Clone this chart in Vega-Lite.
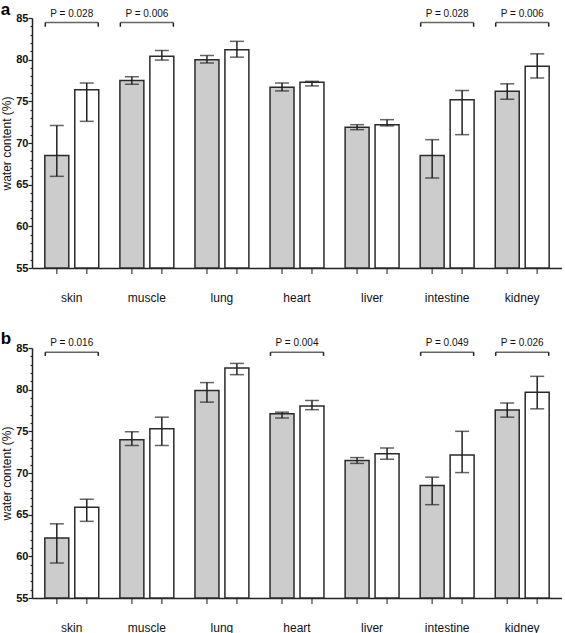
{
  "$schema": "https://vega.github.io/schema/vega-lite/v6.json",
  "padding": 0,
  "config": {
    "view": {"stroke": null},
    "font": "Liberation Sans",
    "title": {"font": "Liberation Sans"},
    "axis": {"labelFont": "Liberation Sans", "titleFont": "Liberation Sans"}
  },
  "datasets": {
    "barsA": [
      {"organ": "skin", "group": "control", "mean": 68.5, "lo": 66.0, "hi": 72.1},
      {"organ": "skin", "group": "treatment", "mean": 76.4, "lo": 72.6, "hi": 77.2},
      {"organ": "muscle", "group": "control", "mean": 77.5, "lo": 77.05, "hi": 77.95},
      {"organ": "muscle", "group": "treatment", "mean": 80.4, "lo": 79.95, "hi": 81.1},
      {"organ": "lung", "group": "control", "mean": 80.0, "lo": 79.6, "hi": 80.5},
      {"organ": "lung", "group": "treatment", "mean": 81.2, "lo": 80.3, "hi": 82.2},
      {"organ": "heart", "group": "control", "mean": 76.7, "lo": 76.25, "hi": 77.2},
      {"organ": "heart", "group": "treatment", "mean": 77.3, "lo": 76.85, "hi": 77.4},
      {"organ": "liver", "group": "control", "mean": 71.9, "lo": 71.6, "hi": 72.2},
      {"organ": "liver", "group": "treatment", "mean": 72.2, "lo": 72.05, "hi": 72.8},
      {"organ": "intestine", "group": "control", "mean": 68.5, "lo": 65.8, "hi": 70.4},
      {"organ": "intestine", "group": "treatment", "mean": 75.2, "lo": 71.0, "hi": 76.3},
      {"organ": "kidney", "group": "control", "mean": 76.2, "lo": 75.25, "hi": 77.1},
      {"organ": "kidney", "group": "treatment", "mean": 79.2, "lo": 77.8, "hi": 80.7}
    ],
    "barsB": [
      {"organ": "skin", "group": "control", "mean": 62.2, "lo": 59.2, "hi": 63.9},
      {"organ": "skin", "group": "treatment", "mean": 65.9, "lo": 64.2, "hi": 66.85},
      {"organ": "muscle", "group": "control", "mean": 74.0, "lo": 73.3, "hi": 74.95},
      {"organ": "muscle", "group": "treatment", "mean": 75.3, "lo": 73.3, "hi": 76.7},
      {"organ": "lung", "group": "control", "mean": 79.9, "lo": 78.5, "hi": 80.85},
      {"organ": "lung", "group": "treatment", "mean": 82.6, "lo": 81.8, "hi": 83.15},
      {"organ": "heart", "group": "control", "mean": 77.1, "lo": 76.6, "hi": 77.3},
      {"organ": "heart", "group": "treatment", "mean": 78.05, "lo": 77.6, "hi": 78.7},
      {"organ": "liver", "group": "control", "mean": 71.5, "lo": 71.15, "hi": 71.85},
      {"organ": "liver", "group": "treatment", "mean": 72.3, "lo": 71.65, "hi": 73.0},
      {"organ": "intestine", "group": "control", "mean": 68.5, "lo": 66.2, "hi": 69.5},
      {"organ": "intestine", "group": "treatment", "mean": 72.15, "lo": 70.05, "hi": 75.0},
      {"organ": "kidney", "group": "control", "mean": 77.55, "lo": 76.7, "hi": 78.4},
      {"organ": "kidney", "group": "treatment", "mean": 79.7, "lo": 77.7, "hi": 81.6}
    ],
    "pA": [
      {"organ": "skin", "p": "P = 0.028"},
      {"organ": "muscle", "p": "P = 0.006"},
      {"organ": "intestine", "p": "P = 0.028"},
      {"organ": "kidney", "p": "P = 0.006"}
    ],
    "pB": [
      {"organ": "skin", "p": "P = 0.016"},
      {"organ": "heart", "p": "P = 0.004"},
      {"organ": "intestine", "p": "P = 0.049"},
      {"organ": "kidney", "p": "P = 0.026"}
    ]
  },
  "vconcat": [
    {
      "width": 530,
      "height": 250,
      "title": {"text": "a", "anchor": "start", "frame": "bounds", "fontSize": 17, "fontWeight": "bold", "offset": -10},
      "layer": [
        {
          "data": {"name": "barsA"},
          "mark": {"type": "bar", "stroke": "#2a2a2a", "strokeWidth": 1.5},
          "encoding": {
            "x": {"field": "organ", "type": "nominal", "sort": null,
                  "scale": {"paddingInner": 0, "paddingOuter": 0.03},
                  "axis": {"title": null, "ticks": false, "tickSize": 0, "labelAngle": 0, "labelPadding": 24, "labelFontSize": 12, "labelColor": "#111111", "domainColor": "#222222", "domainWidth": 1.5}},
            "xOffset": {"field": "group", "type": "nominal", "scale": {"paddingInner": 0.2, "paddingOuter": 0.353}},
            "y": {"field": "mean", "type": "quantitative",
                  "scale": {"domain": [55, 85], "nice": false, "zero": false},
                  "axis": {"title": "water content (%)", "titleFontSize": 12, "titleFontWeight": "normal", "titleColor": "#111111", "titlePadding": 2,
                           "tickCount": 30,
                           "labelExpr": "datum.value % 5 === 0 ? datum.label : ''",
                           "labelOverlap": false,
                           "labelFontSize": 11, "labelFontWeight": "bold", "labelColor": "#111111", "labelPadding": 0,
                           "tickSize": {"condition": {"test": "datum.value % 5 === 0", "value": 4}, "value": 2},
                           "tickColor": "#222222", "tickWidth": 1.2, "domainColor": "#222222", "domainWidth": 1.5, "grid": false}},
            "y2": {"datum": 55},
            "fill": {"field": "group", "type": "nominal", "scale": {"domain": ["control", "treatment"], "range": ["#cccccc", "#ffffff"]}, "legend": null}
          }
        },
        {
          "data": {"name": "barsA"},
          "mark": {"type": "tick", "orient": "vertical", "size": 6, "thickness": 1.5, "yOffset": 3, "color": "#222222"},
          "encoding": {
            "x": {"field": "organ", "type": "nominal", "sort": null},
            "xOffset": {"field": "group", "type": "nominal"},
            "y": {"datum": 55, "type": "quantitative"}
          }
        },
        {
          "data": {"name": "barsA"},
          "mark": {"type": "rule", "strokeWidth": 1.5, "color": "#222222"},
          "encoding": {
            "x": {"field": "organ", "type": "nominal", "sort": null},
            "xOffset": {"field": "group", "type": "nominal"},
            "y": {"field": "lo", "type": "quantitative"},
            "y2": {"field": "hi"}
          }
        },
        {
          "data": {"name": "barsA"},
          "mark": {"type": "tick", "size": 14, "thickness": 1.5, "color": "#222222"},
          "encoding": {
            "x": {"field": "organ", "type": "nominal", "sort": null},
            "xOffset": {"field": "group", "type": "nominal"},
            "y": {"field": "lo", "type": "quantitative"}
          }
        },
        {
          "data": {"name": "barsA"},
          "mark": {"type": "tick", "size": 14, "thickness": 1.5, "color": "#222222"},
          "encoding": {
            "x": {"field": "organ", "type": "nominal", "sort": null},
            "xOffset": {"field": "group", "type": "nominal"},
            "y": {"field": "hi", "type": "quantitative"}
          }
        },
        {
          "data": {"name": "pA"},
          "mark": {"type": "tick", "size": 53, "thickness": 1.5, "color": "#222222"},
          "encoding": {
            "x": {"field": "organ", "type": "nominal", "sort": null},
            "y": {"datum": 84.45, "type": "quantitative"}
          }
        },
        {
          "data": {"name": "pA"},
          "mark": {"type": "rule", "strokeWidth": 1.5, "color": "#222222", "xOffset": -26.5},
          "encoding": {
            "x": {"field": "organ", "type": "nominal", "sort": null},
            "y": {"datum": 84.45, "type": "quantitative"},
            "y2": {"datum": 83.95}
          }
        },
        {
          "data": {"name": "pA"},
          "mark": {"type": "rule", "strokeWidth": 1.5, "color": "#222222", "xOffset": 26.5},
          "encoding": {
            "x": {"field": "organ", "type": "nominal", "sort": null},
            "y": {"datum": 84.45, "type": "quantitative"},
            "y2": {"datum": 83.95}
          }
        },
        {
          "data": {"name": "pA"},
          "mark": {"type": "text", "fontSize": 10, "baseline": "alphabetic", "dy": -6, "color": "#111111"},
          "encoding": {
            "x": {"field": "organ", "type": "nominal", "sort": null},
            "y": {"datum": 84.45, "type": "quantitative"},
            "text": {"field": "p"}
          }
        }
      ]
    },
    {
      "width": 530,
      "height": 250,
      "title": {"text": "b", "anchor": "start", "frame": "bounds", "fontSize": 17, "fontWeight": "bold", "offset": -10},
      "layer": [
        {
          "data": {"name": "barsB"},
          "mark": {"type": "bar", "stroke": "#2a2a2a", "strokeWidth": 1.5},
          "encoding": {
            "x": {"field": "organ", "type": "nominal", "sort": null,
                  "scale": {"paddingInner": 0, "paddingOuter": 0.03},
                  "axis": {"title": null, "ticks": false, "tickSize": 0, "labelAngle": 0, "labelPadding": 24, "labelFontSize": 12, "labelColor": "#111111", "domainColor": "#222222", "domainWidth": 1.5}},
            "xOffset": {"field": "group", "type": "nominal", "scale": {"paddingInner": 0.2, "paddingOuter": 0.353}},
            "y": {"field": "mean", "type": "quantitative",
                  "scale": {"domain": [55, 85], "nice": false, "zero": false},
                  "axis": {"title": "water content (%)", "titleFontSize": 12, "titleFontWeight": "normal", "titleColor": "#111111", "titlePadding": 2,
                           "tickCount": 30,
                           "labelExpr": "datum.value % 5 === 0 ? datum.label : ''",
                           "labelOverlap": false,
                           "labelFontSize": 11, "labelFontWeight": "bold", "labelColor": "#111111", "labelPadding": 0,
                           "tickSize": {"condition": {"test": "datum.value % 5 === 0", "value": 4}, "value": 2},
                           "tickColor": "#222222", "tickWidth": 1.2, "domainColor": "#222222", "domainWidth": 1.5, "grid": false}},
            "y2": {"datum": 55},
            "fill": {"field": "group", "type": "nominal", "scale": {"domain": ["control", "treatment"], "range": ["#cccccc", "#ffffff"]}, "legend": null}
          }
        },
        {
          "data": {"name": "barsB"},
          "mark": {"type": "tick", "orient": "vertical", "size": 6, "thickness": 1.5, "yOffset": 3, "color": "#222222"},
          "encoding": {
            "x": {"field": "organ", "type": "nominal", "sort": null},
            "xOffset": {"field": "group", "type": "nominal"},
            "y": {"datum": 55, "type": "quantitative"}
          }
        },
        {
          "data": {"name": "barsB"},
          "mark": {"type": "rule", "strokeWidth": 1.5, "color": "#222222"},
          "encoding": {
            "x": {"field": "organ", "type": "nominal", "sort": null},
            "xOffset": {"field": "group", "type": "nominal"},
            "y": {"field": "lo", "type": "quantitative"},
            "y2": {"field": "hi"}
          }
        },
        {
          "data": {"name": "barsB"},
          "mark": {"type": "tick", "size": 14, "thickness": 1.5, "color": "#222222"},
          "encoding": {
            "x": {"field": "organ", "type": "nominal", "sort": null},
            "xOffset": {"field": "group", "type": "nominal"},
            "y": {"field": "lo", "type": "quantitative"}
          }
        },
        {
          "data": {"name": "barsB"},
          "mark": {"type": "tick", "size": 14, "thickness": 1.5, "color": "#222222"},
          "encoding": {
            "x": {"field": "organ", "type": "nominal", "sort": null},
            "xOffset": {"field": "group", "type": "nominal"},
            "y": {"field": "hi", "type": "quantitative"}
          }
        },
        {
          "data": {"name": "pB"},
          "mark": {"type": "tick", "size": 53, "thickness": 1.5, "color": "#222222"},
          "encoding": {
            "x": {"field": "organ", "type": "nominal", "sort": null},
            "y": {"datum": 84.5, "type": "quantitative"}
          }
        },
        {
          "data": {"name": "pB"},
          "mark": {"type": "rule", "strokeWidth": 1.5, "color": "#222222", "xOffset": -26.5},
          "encoding": {
            "x": {"field": "organ", "type": "nominal", "sort": null},
            "y": {"datum": 84.5, "type": "quantitative"},
            "y2": {"datum": 84.05}
          }
        },
        {
          "data": {"name": "pB"},
          "mark": {"type": "rule", "strokeWidth": 1.5, "color": "#222222", "xOffset": 26.5},
          "encoding": {
            "x": {"field": "organ", "type": "nominal", "sort": null},
            "y": {"datum": 84.5, "type": "quantitative"},
            "y2": {"datum": 84.05}
          }
        },
        {
          "data": {"name": "pB"},
          "mark": {"type": "text", "fontSize": 10, "baseline": "alphabetic", "dy": -6, "color": "#111111"},
          "encoding": {
            "x": {"field": "organ", "type": "nominal", "sort": null},
            "y": {"datum": 84.5, "type": "quantitative"},
            "text": {"field": "p"}
          }
        }
      ]
    }
  ],
  "bounds": "flush",
  "spacing": 80
}
